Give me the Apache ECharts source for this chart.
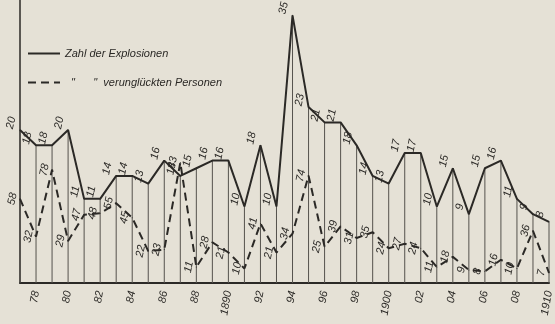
<!DOCTYPE html>
<html>
<head>
<meta charset="utf-8">
<script src="https://cdn.jsdelivr.net/npm/echarts@6/dist/echarts.min.js"></script>
<style>
  html, body { margin: 0; padding: 0; background: #e5e1d6; }
  #chart { width: 555px; height: 324px; }
</style>
</head>
<body>
<div id="chart"></div>
<script>
// Jahre 1877 - 1910
var years = [1877, 1878, 1879, 1880, 1881, 1882, 1883, 1884, 1885, 1886, 1887, 1888,
             1889, 1890, 1891, 1892, 1893, 1894, 1895, 1896, 1897, 1898, 1899, 1900,
             1901, 1902, 1903, 1904, 1905, 1906, 1907, 1908, 1909, 1910];
var tickLabels = ['', '78', '', '80', '', '82', '', '84', '', '86', '', '88',
                  '', '1890', '', '92', '', '94', '', '96', '', '98', '', '1900',
                  '', '02', '', '04', '', '06', '', '08', '', '1910'];
// Zahl der Explosionen
var explosions = [20, 18, 18, 20, 11, 11, 14, 14, 13, 16, 14, 15,
                  16, 16, 10, 18, 10, 35, 23, 21, 21, 18, 14, 13,
                  17, 17, 10, 15, 9, 15, 16, 11, 9, 8];
// verunglückte Personen
var persons = [58, 32, 78, 29, 47, 48, 55, 45, 22, 23, 83, 11,
               28, 21, 10, 41, 21, 34, 74, 25, 39, 31, 35, 24,
               27, 24, 11, 18, 9, 8, 16, 10, 36, 7];

var nameExpl = 'Zahl der Explosionen';
var namePers = '  "      "  verunglückten Personen';

var ink = '#2b2926';
var font = 'Liberation Sans';

var chart = echarts.init(document.getElementById('chart'));
chart.setOption({
    backgroundColor: '#e5e1d6',
    animation: false,
    grid: { left: 20, right: 6, top: 0, bottom: 41 },
    legend: {
        data: [nameExpl, namePers],
        orient: 'vertical',
        left: 22,
        top: 43,
        itemWidth: 32,
        itemHeight: 12,
        itemGap: 18,
        itemStyle: { opacity: 0 },
        textStyle: { color: ink, fontFamily: font, fontStyle: 'italic', fontSize: 11 }
    },
    xAxis: {
        type: 'category',
        data: years,
        boundaryGap: false,
        axisLine: { lineStyle: { color: ink, width: 2 } },
        axisTick: { show: false },
        axisLabel: {
            interval: 0,
            rotate: 80,
            margin: 8,
            color: ink,
            fontFamily: font,
            fontStyle: 'italic',
            fontSize: 11,
            formatter: function (v, i) { return tickLabels[i]; }
        },
        splitLine: { show: false }
    },
    yAxis: [{
        type: 'value',
        min: 0,
        max: 37,
        axisLine: { show: true, lineStyle: { color: ink, width: 1.5 } },
        axisTick: { show: false },
        axisLabel: { show: false },
        splitLine: { show: false }
    }, {
        type: 'value',
        min: 0,
        max: 195,
        show: false,
        splitLine: { show: false }
    }],
    series: [{
        // senkrechte Linien bis zur Explosionskurve
        name: 'drop',
        type: 'bar',
        yAxisIndex: 0,
        barWidth: 1,
        silent: true,
        itemStyle: { color: '#55524d' },
        data: explosions,
        z: 1
    }, {
        name: nameExpl,
        type: 'line',
        yAxisIndex: 0,
        symbol: 'circle',
        symbolSize: 1,
        itemStyle: { color: ink },
        lineStyle: { color: ink, width: 2 },
        label: {
            show: true,
            position: 'top',
            distance: 10,
            offset: [-5, -8],
            rotate: 78,
            align: 'center',
            verticalAlign: 'middle',
            color: ink,
            fontFamily: font,
            fontStyle: 'italic',
            fontSize: 11
        },
        data: explosions,
        z: 3
    }, {
        name: namePers,
        type: 'line',
        yAxisIndex: 1,
        symbol: 'circle',
        symbolSize: 1,
        itemStyle: { color: ink },
        lineStyle: { color: ink, width: 2, type: [8, 5] },
        label: {
            show: true,
            position: 'left',
            distance: 7,
            rotate: 78,
            align: 'center',
            verticalAlign: 'middle',
            color: ink,
            fontFamily: font,
            fontStyle: 'italic',
            fontSize: 11
        },
        data: persons,
        z: 3
    }]
});
</script>
</body>
</html>
